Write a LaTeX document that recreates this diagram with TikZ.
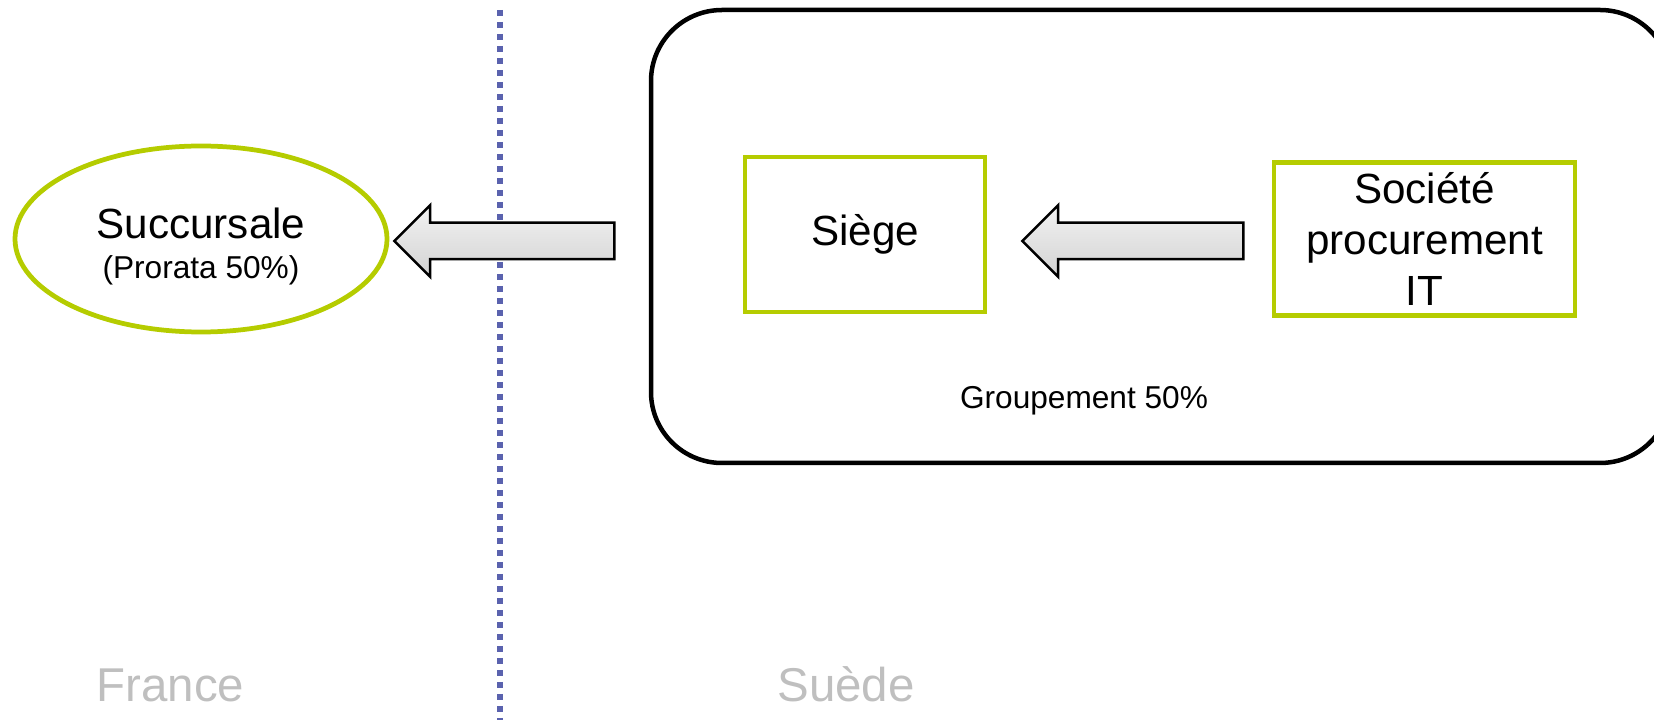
\documentclass[tikz,border=0pt]{standalone}
\usepackage{fontspec}
\setmainfont{Liberation Sans}
\usetikzlibrary{shapes.geometric,shapes.arrows}
\definecolor{lime}{RGB}{181,204,0}
\definecolor{dotblue}{RGB}{90,98,174}
\definecolor{pays}{RGB}{191,191,191}
\tikzset{entity/.style={draw=lime,line width=0.095cm,
                        text badly centered,inner sep=0pt}}
\tikzset{bloc/.style={entity,rectangle}}
\tikzset{branch/.style={entity,ellipse}}
\tikzset{flow/.style={single arrow,draw=black,line width=0.05cm,
                      top color=gray!10,bottom color=gray!35,
                      shape border rotate=180,inner xsep=0pt,inner ysep=0.34cm,
                      single arrow head extend=0.35cm}}
\tikzset{country/.style={text=pays,anchor=base,
                         font=\fontsize{27}{32}\selectfont}}

\begin{document}
\begin{tikzpicture}
    \useasboundingbox (0,0) rectangle (33.08,14.4);

    % groupement
    \node[draw,line width=0.09cm,rounded corners=1.42cm,
          minimum width=20.4cm,minimum height=9.06cm] (groupe) at (23.22,9.67) {};
    \node[anchor=base,font=\fontsize{18}{21}\selectfont] (grp) at (21.68,6.22) {Groupement 50\%};

    % frontiere
    \coordinate (fh) at (10,14.2);
    \coordinate (fb) at (10,0);
    \draw[dotblue,line width=0.12cm,dash pattern=on 0.12cm off 0.12cm] (fh) -- (fb);

    \node[branch,minimum width=7.44cm,minimum height=3.72cm] (succ) at (4.02,9.62) {};
    \node[align=center,font=\fontsize{24}{28}\selectfont] (succtxt) at (4.02,9.47)
          {Succursale\\[-5pt]{\fontsize{18}{21}\selectfont (Prorata 50\%)}};
    \node[bloc,minimum width=4.8cm,minimum height=3.1cm,
          font=\fontsize{24}{28}\selectfont] (siege) at (17.3,9.71) {Siège};
    \node[bloc,minimum width=6.02cm,minimum height=3.06cm,align=center,
          font=\fontsize{24}{29}\selectfont] (soc) at (28.49,9.62)
          {Société\\procurement\\IT};

    \node[flow,minimum height=4.4cm] (fl1) at (10.27,9.58) {};
    \node[flow,minimum height=4.42cm] (fl2) at (22.84,9.58) {};

    \node[country] (fr) at (3.41,0.38) {France};
    \node[country] (se) at (16.92,0.38) {Suède};

\end{tikzpicture}
\end{document}
